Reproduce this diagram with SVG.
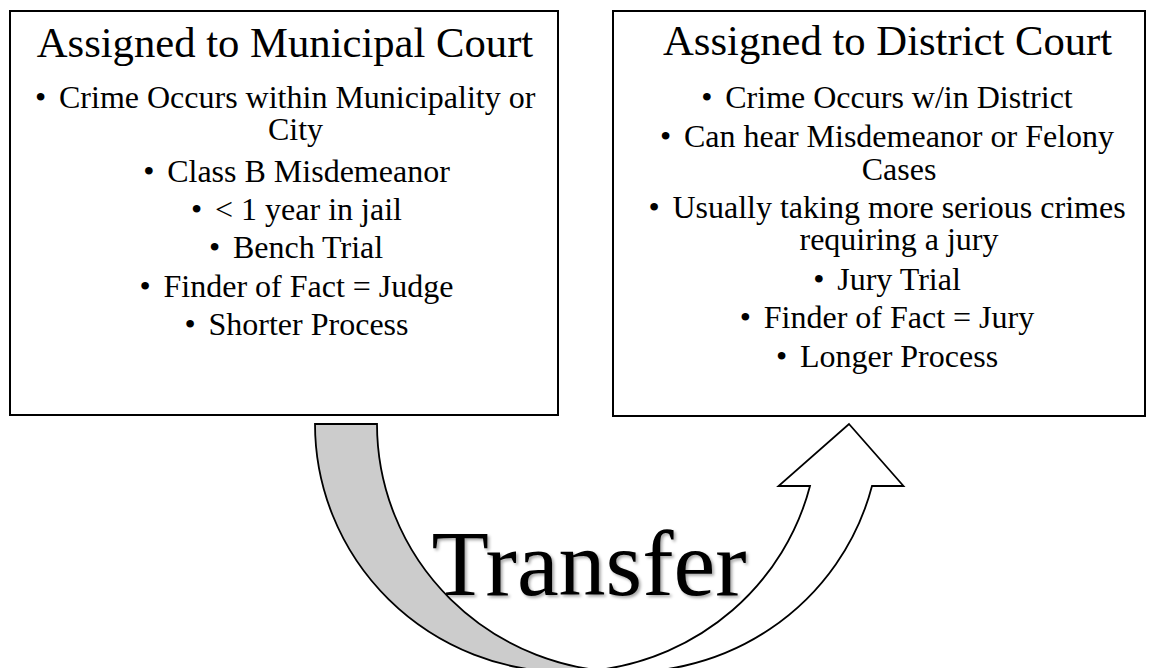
<svg xmlns="http://www.w3.org/2000/svg" width="1155" height="668" viewBox="0 0 1155 668">
  <defs>
    <style>
      .box { fill: #ffffff; stroke: #000000; stroke-width: 2; }
      .title { font-family: "Liberation Serif", "Times New Roman", serif; font-size: 42.67px; fill: #000000; text-anchor: middle; }
      .item { font-family: "Liberation Serif", "Times New Roman", serif; font-size: 32px; fill: #000000; }
      .mid { text-anchor: middle; }
      .back { fill: #cccccc; stroke: #000000; stroke-width: 1.8; stroke-linejoin: miter; }
      .front { fill: #ffffff; stroke: #000000; stroke-width: 1.8; stroke-linejoin: miter; }
      .big { font-family: "Liberation Serif", "Times New Roman", serif; font-size: 94px; fill: #000000; text-anchor: middle; }
    </style>
    <filter id="shadow" x="-10%" y="-20%" width="120%" height="140%">
      <feDropShadow dx="2" dy="2" stdDeviation="1.5" flood-color="#000000" flood-opacity="0.35"/>
    </filter>
  </defs>
  <rect x="0" y="0" width="1155" height="668" fill="#ffffff"/>

  <g id="municipal">
    <rect class="box" x="10" y="11" width="548" height="404"/>
    <text class="title" x="285" y="57">Assigned to Municipal Court</text>
    <text class="item" x="35" y="108.3">•<tspan dx="12.8">Crime Occurs within Municipality or</tspan></text>
    <text class="item mid" x="295.5" y="140">City</text>
    <text class="item mid" x="296.5" y="181.7">•<tspan dx="12.8">Class B Misdemeanor</tspan></text>
    <text class="item mid" x="296.5" y="220">•<tspan dx="12.8">&lt; 1 year in jail</tspan></text>
    <text class="item mid" x="296" y="258.3">•<tspan dx="12.8">Bench Trial</tspan></text>
    <text class="item mid" x="296.5" y="296.7">•<tspan dx="12.8">Finder of Fact = Judge</tspan></text>
    <text class="item mid" x="296.5" y="335">•<tspan dx="12.8">Shorter Process</tspan></text>
  </g>

  <g id="district">
    <rect class="box" x="613" y="11" width="532" height="405"/>
    <text class="title" x="887.6" y="55">Assigned to District Court</text>
    <text class="item mid" x="887" y="108.3">•<tspan dx="12.8">Crime Occurs w/in District</tspan></text>
    <text class="item mid" x="887" y="146.7">•<tspan dx="12.8">Can hear Misdemeanor or Felony</tspan></text>
    <text class="item mid" x="899" y="180">Cases</text>
    <text class="item mid" x="887" y="218.3">•<tspan dx="12.8">Usually taking more serious crimes</tspan></text>
    <text class="item mid" x="899" y="250">requiring a jury</text>
    <text class="item mid" x="887" y="290">•<tspan dx="12.8">Jury Trial</tspan></text>
    <text class="item mid" x="887" y="328.3">•<tspan dx="12.8">Finder of Fact = Jury</tspan></text>
    <text class="item mid" x="887" y="366.7">•<tspan dx="12.8">Longer Process</tspan></text>
  </g>

  <g id="connectors">
    <path class="back" d="M 315 424 A 251.5 248 0 0 0 566.5 672 L 628.5 672 A 251.5 248 0 0 1 377 424 Z"/>
    <path class="front" d="M 849 424 L 903.5 486 L 872 486 A 251.5 248 0 0 1 597.5 670.1 A 251.5 248 0 0 0 810 486 L 778.5 486 Z"/>
    <text class="big" x="589" y="595" filter="url(#shadow)">Transfer</text>
  </g>
</svg>
